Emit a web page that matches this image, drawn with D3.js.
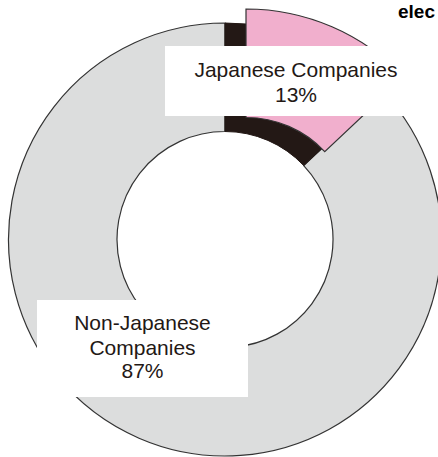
<!DOCTYPE html>
<html>
<head>
<meta charset="utf-8">
<script src="https://cdn.jsdelivr.net/npm/d3@7"></script>
<style>
  html, body { margin: 0; padding: 0; background: #fff; }
  svg { display: block; }
  text { font-family: "Liberation Sans", Arial, sans-serif; }
</style>
</head>
<body>
<svg id="chart" width="438" height="457"></svg>
<script>
const categories = ["Japanese Companies", "Non-Japanese Companies"];
const values = [13, 87];
const labelLines = [["Japanese Companies", "13%"], ["Non-Japanese", "Companies", "87%"]];
const titleText = "elec";

const W = 438, H = 457;
const cx = 225, cy = 239.5;
const outerR = 216.5, innerR = 108;
const explode = [21, -14];

const colors = { "Japanese Companies": "#f1afcd", "Non-Japanese Companies": "#dcdddd" };
const shadowColor = "#231815";
const strokeColor = "#333333";

const svg = d3.select("#chart");

const pie = d3.pie().sort(null).value(d => d.value).startAngle(0).endAngle(2 * Math.PI);
const data = pie(categories.map((c, i) => ({ name: c, value: values[i] })));
const arc = d3.arc().innerRadius(innerR).outerRadius(outerR);

const g = svg.append("g").attr("transform", `translate(${cx},${cy})`);

// Non-Japanese slice
g.selectAll("path.rest")
  .data(data.filter(d => d.data.name !== "Japanese Companies"))
  .join("path")
  .attr("class", "rest")
  .attr("d", arc)
  .attr("fill", d => colors[d.data.name])
  .attr("stroke", strokeColor)
  .attr("stroke-width", 1.2);

const jp = data.filter(d => d.data.name === "Japanese Companies");

// dark "side" of the exploded slice (original position)
g.selectAll("path.shadow")
  .data(jp)
  .join("path")
  .attr("class", "shadow")
  .attr("d", arc)
  .attr("fill", shadowColor)
  .attr("stroke", shadowColor)
  .attr("stroke-width", 1);

// exploded pink slice
g.selectAll("path.jp")
  .data(jp)
  .join("path")
  .attr("class", "jp")
  .attr("transform", `translate(${explode[0]},${explode[1]})`)
  .attr("d", arc)
  .attr("fill", d => colors[d.data.name])
  .attr("stroke", strokeColor)
  .attr("stroke-width", 1.2);

// label boxes
const boxes = [
  { x: 165, y: 46, w: 262, h: 70, tx: 296, baselines: [77, 102] },
  { x: 37, y: 300, w: 211, h: 97, tx: 142.5, baselines: [330, 355, 378] }
];

boxes.forEach((b, i) => {
  svg.append("rect")
    .attr("x", b.x).attr("y", b.y)
    .attr("width", b.w).attr("height", b.h)
    .attr("fill", "#ffffff");
  labelLines[i].forEach((line, j) => {
    svg.append("text")
      .attr("x", b.tx)
      .attr("y", b.baselines[j])
      .attr("text-anchor", "middle")
      .attr("font-size", 21)
      .attr("fill", "#231815")
      .text(line);
  });
});

// title fragment at top right
svg.append("text")
  .attr("x", 435)
  .attr("y", 18)
  .attr("text-anchor", "end")
  .attr("font-size", 19)
  .attr("font-weight", "bold")
  .attr("fill", "#000")
  .text(titleText);
</script>
</body>
</html>
